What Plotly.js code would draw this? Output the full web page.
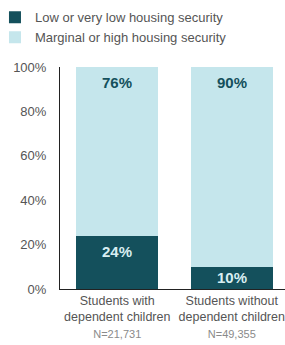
<!DOCTYPE html>
<html><head><meta charset="utf-8">
<script src="https://cdn.plot.ly/plotly-3.0.1.min.js"></script>
<style>body{margin:0;padding:0;background:#fff}#c{width:285px;height:345px}</style>
</head><body><div id="c"></div>
<script>
const categories = ["Students with dependent children", "Students without dependent children"];
const tickLabels = ["Students with<br>dependent children", "Students without<br>dependent children"];
const sampleSizes = ["N=21,731", "N=49,355"];
const lowSecurity = [24, 10];
const highSecurity = [76, 90];
const seriesNames = ["Low or very low housing security", "Marginal or high housing security"];
const yTicks = [0, 20, 40, 60, 80, 100];

const FONT = "'Liberation Sans Narrow', 'Arial Narrow', 'Liberation Sans', Arial, sans-serif";
const dark = "#14505c", light = "#c5e6ec";
const tickText = tickLabels.map((c, i) => c + "<br><span style='font-size:11px;color:#8a8a8a'>" + sampleSizes[i] + "</span>");

const traces = [
  {type: "bar", name: seriesNames[0], x: categories, y: lowSecurity,
   marker: {color: dark}, hoverinfo: "none"},
  {type: "bar", name: seriesNames[1], x: categories, y: highSecurity,
   marker: {color: light}, hoverinfo: "none"}
];

// value labels: placed a fixed distance below each segment's top, or centred if the segment is short
const TOP_OFFSET = 7.2; // in percent units (~16px)
const annotations = [];
categories.forEach((c, i) => {
  const segs = [[0, lowSecurity[i], "#d8eef2"], [lowSecurity[i], highSecurity[i], dark]];
  segs.forEach(([base, v, col]) => {
    annotations.push({x: c, y: Math.max(base + v / 2, base + v - TOP_OFFSET), xref: "x", yref: "y",
      text: "<b>" + v + "%</b>", showarrow: false, yanchor: "middle",
      font: {family: FONT, size: 15, color: col}});
  });
});

const layout = {
  width: 285, height: 345,
  margin: {l: 60, r: 0, t: 67, b: 56, autoexpand: false},
  paper_bgcolor: "#fff", plot_bgcolor: "#fff",
  barmode: "stack", bargap: 0.28,
  font: {family: FONT, size: 13, color: "#555"},
  showlegend: true,
  annotations: annotations,
  legend: {xref: "paper", yref: "paper", x: -0.289, y: 1.291, xanchor: "left", yanchor: "top",
           traceorder: "normal", font: {family: FONT, size: 13, color: "#555"},
           itemwidth: 30, tracegroupgap: 0, bgcolor: "rgba(0,0,0,0)"},
  xaxis: {type: "category", range: [-0.5, 1.465], tickvals: categories, ticktext: tickText,
          tickangle: 0, automargin: false,
          showline: true, linecolor: "#222", linewidth: 1, ticks: "", showgrid: false,
          tickfont: {family: FONT, size: 12.5, color: "#555"}, fixedrange: true},
  yaxis: {range: [0, 100], tickvals: yTicks, ticktext: yTicks.map(v => v + "%"),
          automargin: false,
          showline: true, linecolor: "#222", linewidth: 1, ticks: "", showgrid: false,
          zeroline: false, ticklabelstandoff: 10,
          tickfont: {family: FONT, size: 13, color: "#555"}, fixedrange: true}
};
Plotly.newPlot("c", traces, layout, {displayModeBar: false, staticPlot: true});
</script></body></html>
